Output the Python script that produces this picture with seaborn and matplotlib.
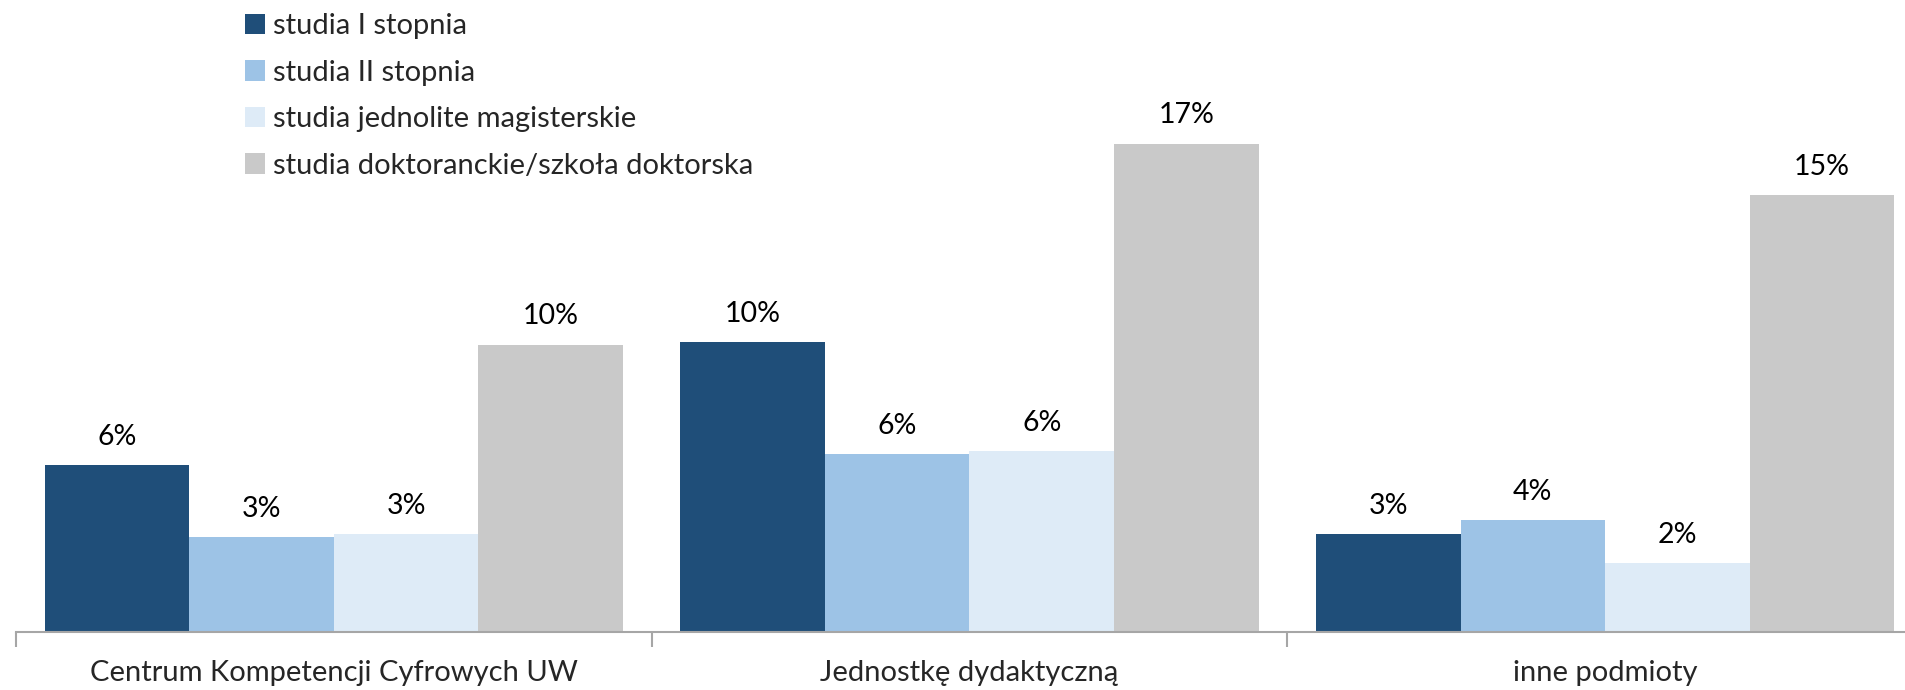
import numpy as np
import pandas as pd
import seaborn as sns
from matplotlib import pyplot as plt

categories = ["Centrum Kompetencji Cyfrowych UW", "Jednostkę dydaktyczną", "inne podmioty"]
series = ["studia I stopnia", "studia II stopnia", "studia jednolite magisterskie",
          "studia doktoranckie/szkoła doktorska"]
values = {
    "studia I stopnia": [5.8, 10.1, 3.4],
    "studia II stopnia": [3.3, 6.2, 3.9],
    "studia jednolite magisterskie": [3.4, 6.3, 2.4],
    "studia doktoranckie/szkoła doktorska": [10.0, 17.0, 15.2],
}
colors = ["#1F4E79", "#9DC3E6", "#DEEBF7", "#C9C9C9"]

rows = []
for s in series:
    for c, v in zip(categories, values[s]):
        rows.append({"kategoria": c, "typ": s, "wartosc": v})
df = pd.DataFrame(rows)

sns.set_theme(style="white")
plt.rcParams["font.family"] = ["Lato", "DejaVu Sans"]

fig = plt.figure(figsize=(19.06, 6.9), dpi=100)
# the last group runs a little past the right edge, as in the original
ax = fig.add_axes([16 / 1906, 1 - 632 / 690, 1907 / 1906, 632 / 690])

sns.barplot(data=df, x="kategoria", y="wartosc", hue="typ", order=categories,
            hue_order=series, palette=colors, saturation=1, width=0.91,
            linewidth=0, ax=ax)

for cont in ax.containers:
    ax.bar_label(cont, labels=["%.0f%%" % b.get_height() for b in cont],
                 padding=11, fontsize=20.5, color="black")

ax.set_ylim(0, 22)
ax.set_xlim(-0.5, 2.5)
ax.set_xlabel("")
ax.set_ylabel("")
ax.set_yticks([])
for side in ["left", "right", "top"]:
    ax.spines[side].set_visible(False)
ax.spines["bottom"].set_color("#A6A6A6")
ax.spines["bottom"].set_linewidth(1.5)

ax.set_xticks([0, 1, 2])
ax.set_xticklabels(categories, fontsize=21)
ax.tick_params(axis="x", which="major", length=0, pad=20)
ax.set_xticks([-0.5, 0.5, 1.5, 2.5], minor=True)
ax.tick_params(axis="x", which="minor", length=11, width=1.5, color="#A6A6A6",
               direction="out", bottom=True)

handles, labels = ax.get_legend_handles_labels()
ax.legend(handles, labels, loc="upper left", bbox_to_anchor=(229 / 1906, 1.004),
          bbox_transform=fig.transFigure, frameon=False, fontsize=21,
          handlelength=0.7, handleheight=0.7, handletextpad=0.25,
          labelspacing=0.7, borderaxespad=0.15)

fig.savefig("out.png", dpi=100)
